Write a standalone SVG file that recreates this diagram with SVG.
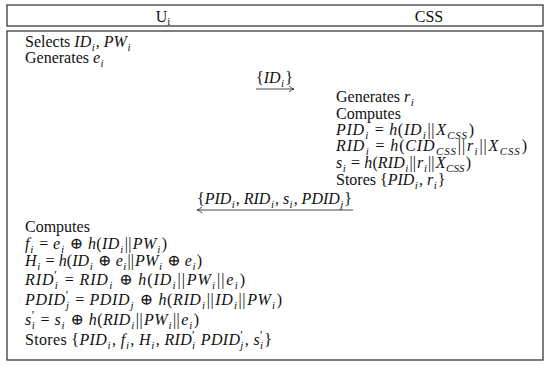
<svg xmlns="http://www.w3.org/2000/svg" width="550" height="367" viewBox="0 0 550 367">
<defs>
<style>
text{font-family:"Liberation Serif","DejaVu Serif",serif;font-size:16px;fill:#111}
.m{font-style:italic}
.s{font-size:11px;font-style:italic}
.su{font-size:11px}
.p{font-size:12px}
.box{fill:#fff;stroke:#3a3a3a;stroke-width:1.3}
.arr{stroke:#333;stroke-width:0.9;fill:none}
</style>
<marker id="ah" viewBox="0 0 6 7" refX="5.5" refY="3.5" markerWidth="6" markerHeight="7" markerUnits="userSpaceOnUse" orient="auto">
<path d="M0.3,0.3 Q3,2.9 5.5,3.5 Q3,4.1 0.3,6.7" fill="none" stroke="#333" stroke-width="0.9"/>
</marker>
</defs>
<rect width="550" height="367" fill="#fff"/>
<g id="header">
<rect class="box" x="7" y="5" width="536" height="21"/>
<text x="163" y="21.5" text-anchor="middle">U<tspan class="su" dy="3">i</tspan></text>
<text x="429" y="21.5" text-anchor="middle">CSS</text>
</g>
<g id="body">
<rect class="box" x="7" y="31" width="536" height="329"/>
</g>
<g id="user-setup">
<text x="25" y="47">Selects <tspan class="m">ID</tspan><tspan class="s" dx="0.5" dy="3.5">i</tspan><tspan dx="1" dy="-3.5">, </tspan><tspan class="m">PW</tspan><tspan class="s" dx="0.5" dy="3.5">i</tspan></text>
<text x="25" y="63">Generates <tspan class="m">e</tspan><tspan class="s" dx="0.5" dy="3.5">i</tspan></text>
</g>
<g id="css-processing">
<text x="336" y="102">Generates <tspan class="m">r</tspan><tspan class="s" dx="0.5" dy="3.5">i</tspan></text>
<text x="336" y="119">Computes</text>
<text x="336" y="135" textLength="138"><tspan class="m">PID</tspan><tspan class="s" dx="0.5" dy="3.5">i</tspan><tspan dx="1" dy="-3.5"> = </tspan><tspan class="m">h</tspan>(<tspan class="m">ID</tspan><tspan class="s" dx="0.5" dy="3.5">i</tspan><tspan dx="1" dy="-3.5">||</tspan><tspan class="m" dx="1">X</tspan><tspan class="s" dx="0.5" dy="3.5">CSS</tspan><tspan dx="1" dy="-3.5">)</tspan></text>
<text x="336" y="151" textLength="191"><tspan class="m">RID</tspan><tspan class="s" dx="0.5" dy="3.5">i</tspan><tspan dx="1" dy="-3.5"> = </tspan><tspan class="m">h</tspan>(<tspan class="m">CID</tspan><tspan class="s" dx="0.5" dy="3.5">CSS</tspan><tspan dx="1" dy="-3.5">||</tspan><tspan class="m" dx="1">r</tspan><tspan class="s" dx="0.5" dy="3.5">i</tspan><tspan dx="1" dy="-3.5">||</tspan><tspan class="m" dx="1">X</tspan><tspan class="s" dx="0.5" dy="3.5">CSS</tspan><tspan dx="1" dy="-3.5">)</tspan></text>
<text x="336" y="168" textLength="135"><tspan class="m">s</tspan><tspan class="s" dx="0.5" dy="3.5">i</tspan><tspan dx="1" dy="-3.5"> = </tspan><tspan class="m">h</tspan>(<tspan class="m">RID</tspan><tspan class="s" dx="0.5" dy="3.5">i</tspan><tspan dx="1" dy="-3.5">||</tspan><tspan class="m" dx="1">r</tspan><tspan class="s" dx="0.5" dy="3.5">i</tspan><tspan dx="1" dy="-3.5">||</tspan><tspan class="m" dx="1">X</tspan><tspan class="s" dx="0.5" dy="3.5">CSS</tspan><tspan dx="1" dy="-3.5">)</tspan></text>
<text x="336" y="185">Stores {<tspan class="m">PID</tspan><tspan class="s" dx="0.5" dy="3.5">i</tspan><tspan dx="1" dy="-3.5">, </tspan><tspan class="m">r</tspan><tspan class="s" dx="0.5" dy="3.5">i</tspan><tspan dx="1" dy="-3.5">}</tspan></text>
</g>
<g id="user-final">
<text x="25" y="232">Computes</text>
<text x="25" y="249" textLength="142"><tspan class="m">f</tspan><tspan class="s" dx="0.5" dy="3.5">i</tspan><tspan dx="1" dy="-3.5"> = </tspan><tspan class="m">e</tspan><tspan class="s" dx="0.5" dy="3.5">i</tspan><tspan dx="1" dy="-3.5"> ⊕ </tspan><tspan class="m">h</tspan>(<tspan class="m">ID</tspan><tspan class="s" dx="0.5" dy="3.5">i</tspan><tspan dx="1" dy="-3.5">||</tspan><tspan class="m" dx="1">PW</tspan><tspan class="s" dx="0.5" dy="3.5">i</tspan><tspan dx="1" dy="-3.5">)</tspan></text>
<text x="25" y="266" textLength="177"><tspan class="m">H</tspan><tspan class="s" dx="0.5" dy="3.5">i</tspan><tspan dx="1" dy="-3.5"> = </tspan><tspan class="m">h</tspan>(<tspan class="m">ID</tspan><tspan class="s" dx="0.5" dy="3.5">i</tspan><tspan dx="1" dy="-3.5"> ⊕ </tspan><tspan class="m">e</tspan><tspan class="s" dx="0.5" dy="3.5">i</tspan><tspan dx="1" dy="-3.5">||</tspan><tspan class="m" dx="1">PW</tspan><tspan class="s" dx="0.5" dy="3.5">i</tspan><tspan dx="1" dy="-3.5"> ⊕ </tspan><tspan class="m">e</tspan><tspan class="s" dx="0.5" dy="3.5">i</tspan><tspan dx="1" dy="-3.5">)</tspan></text>
<text x="25" y="285" textLength="220"><tspan class="m">RID</tspan><tspan class="p" dy="-6">′</tspan><tspan class="s" dx="-3" dy="10">i</tspan><tspan dx="1" dy="-4"> = </tspan><tspan class="m">RID</tspan><tspan class="s" dx="0.5" dy="3.5">i</tspan><tspan dx="1" dy="-3.5"> ⊕ </tspan><tspan class="m">h</tspan>(<tspan class="m">ID</tspan><tspan class="s" dx="0.5" dy="3.5">i</tspan><tspan dx="1" dy="-3.5">||</tspan><tspan class="m" dx="1">PW</tspan><tspan class="s" dx="0.5" dy="3.5">i</tspan><tspan dx="1" dy="-3.5">||</tspan><tspan class="m" dx="1">e</tspan><tspan class="s" dx="0.5" dy="3.5">i</tspan><tspan dx="1" dy="-3.5">)</tspan></text>
<text x="25" y="305" textLength="257"><tspan class="m">PDID</tspan><tspan class="p" dy="-6">′</tspan><tspan class="s" dx="-3" dy="10">j</tspan><tspan dx="1" dy="-4"> = </tspan><tspan class="m">PDID</tspan><tspan class="s" dx="0.5" dy="3.5">j</tspan><tspan dx="1" dy="-3.5"> ⊕ </tspan><tspan class="m">h</tspan>(<tspan class="m">RID</tspan><tspan class="s" dx="0.5" dy="3.5">i</tspan><tspan dx="1" dy="-3.5">||</tspan><tspan class="m" dx="1">ID</tspan><tspan class="s" dx="0.5" dy="3.5">i</tspan><tspan dx="1" dy="-3.5">||</tspan><tspan class="m" dx="1">PW</tspan><tspan class="s" dx="0.5" dy="3.5">i</tspan><tspan dx="1" dy="-3.5">)</tspan></text>
<text x="25" y="325" textLength="174"><tspan class="m">s</tspan><tspan class="p" dy="-6">′</tspan><tspan class="s" dx="-3" dy="10">i</tspan><tspan dx="1" dy="-4"> = </tspan><tspan class="m">s</tspan><tspan class="s" dx="0.5" dy="3.5">i</tspan><tspan dx="1" dy="-3.5"> ⊕ </tspan><tspan class="m">h</tspan>(<tspan class="m">RID</tspan><tspan class="s" dx="0.5" dy="3.5">i</tspan><tspan dx="1" dy="-3.5">||</tspan><tspan class="m" dx="1">PW</tspan><tspan class="s" dx="0.5" dy="3.5">i</tspan><tspan dx="1" dy="-3.5">||</tspan><tspan class="m" dx="1">e</tspan><tspan class="s" dx="0.5" dy="3.5">i</tspan><tspan dx="1" dy="-3.5">)</tspan></text>
<text x="25" y="345" textLength="247">Stores {<tspan class="m">PID</tspan><tspan class="s" dx="0.5" dy="3.5">i</tspan><tspan dx="1" dy="-3.5">, </tspan><tspan class="m">f</tspan><tspan class="s" dx="0.5" dy="3.5">i</tspan><tspan dx="1" dy="-3.5">, </tspan><tspan class="m">H</tspan><tspan class="s" dx="0.5" dy="3.5">i</tspan><tspan dx="1" dy="-3.5">, </tspan><tspan class="m">RID</tspan><tspan class="p" dy="-6">′</tspan><tspan class="s" dx="-3" dy="10">i</tspan><tspan dx="1" dy="-4"> </tspan><tspan class="m">PDID</tspan><tspan class="p" dy="-6">′</tspan><tspan class="s" dx="-3" dy="10">j</tspan><tspan dx="1" dy="-4">, </tspan><tspan class="m">s</tspan><tspan class="p" dy="-6">′</tspan><tspan class="s" dx="-3" dy="10">i</tspan><tspan dx="1" dy="-4">}</tspan></text>
</g>
<g id="connectors">
<text x="256" y="83">{<tspan class="m">ID</tspan><tspan class="s" dx="0.5" dy="3.5">i</tspan><tspan dx="1" dy="-3.5">}</tspan></text>
<line class="arr" x1="256" y1="89" x2="294" y2="89" marker-end="url(#ah)"/>
<text x="197" y="204" textLength="155">{<tspan class="m">PID</tspan><tspan class="s" dx="0.5" dy="3.5">i</tspan><tspan dx="1" dy="-3.5">, </tspan><tspan class="m">RID</tspan><tspan class="s" dx="0.5" dy="3.5">i</tspan><tspan dx="1" dy="-3.5">, </tspan><tspan class="m">s</tspan><tspan class="s" dx="0.5" dy="3.5">i</tspan><tspan dx="1" dy="-3.5">, </tspan><tspan class="m">PDID</tspan><tspan class="s" dx="0.5" dy="3.5">j</tspan><tspan dx="1" dy="-3.5">}</tspan></text>
<line class="arr" x1="353" y1="210" x2="197" y2="210" marker-end="url(#ah)"/>
</g>
</svg>
